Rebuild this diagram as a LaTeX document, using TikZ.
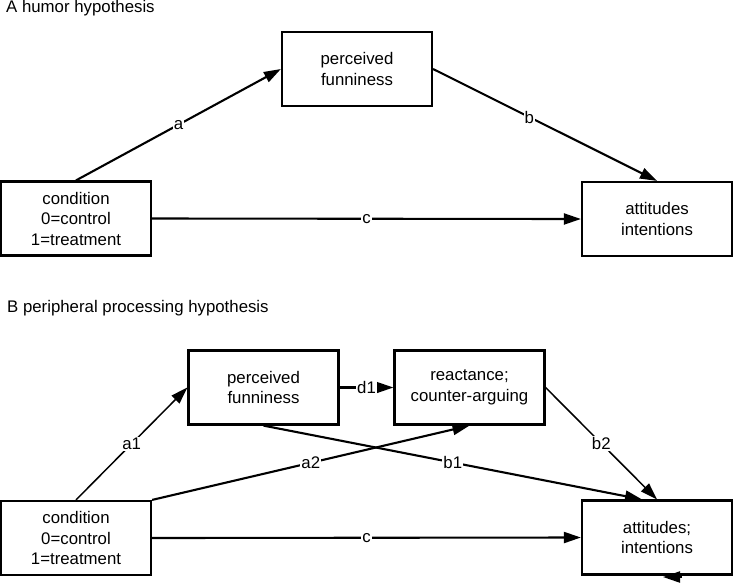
\documentclass[tikz,border=0pt]{standalone}
\usepackage{fontspec}
\setmainfont{Liberation Sans}
\usetikzlibrary{arrows.meta}
\begin{document}
\begin{tikzpicture}[x=1pt,y=-1pt,
    every node/.style={font=\fontsize{16.8}{20.5}\selectfont},
    box/.style={draw,line width=2.2pt,minimum width=150pt,minimum height=74pt,align=center,inner sep=0pt},
    arrow/.style={line width=2.1pt,-{Triangle[length=17pt,width=11pt]}},
    thinarrow/.style={arrow,line width=1.5pt},
    lbl/.style={fill=white,inner sep=1pt}]
      \useasboundingbox (0,0) rectangle (733,582);
      % Titles
      \node[anchor=base west,inner sep=0pt] (titleA) at (6,12) {A humor hypothesis};
      \node[anchor=base west,inner sep=0pt] (titleB) at (7,312) {B peripheral processing hypothesis};
      % Nodes: panel A
      \node[box] (funA) at (357,69) {perceived\\funniness};
      \node[box] (condA) at (76,218.5) {condition\\0=control\\1=treatment};
      \node[box] (attA) at (657,219) {attitudes\\intentions};
      % Arrows: panel A
      \draw[arrow] (condA.north) -- (funA.west) node[midway,lbl] {a};
      \draw[arrow] (funA.east) -- (attA.north) node[pos=0.43,lbl] {b};
      \draw[arrow] (condA.east) -- (attA.west) node[midway,lbl] {c};
      % Nodes: panel B
      \node[box] (funB) at (263.5,387.5) {perceived\\funniness};
      \node[box] (reactB) at (469.5,387.5) {reactance;\\counter-arguing};
      \node[box] (condB) at (76,538) {condition\\0=control\\1=treatment};
      \node[box] (attB) at (657,537.5) {attitudes;\\intentions};
      \coordinate (loopA) at (682,577);
      \coordinate (loopB) at (663,577);
      % Arrows: panel B
      \draw[thinarrow] (condB.north) -- (funB.west) node[midway,lbl] {a1};
      \draw[arrow] (funB.east) -- (reactB.west) node[midway,lbl] {d1};
      \draw[arrow] (condB.north east) -- (reactB.south) node[midway,lbl] {a2};
      \draw[arrow] (funB.south) -- ([xshift=-15pt]attB.north) node[midway,lbl] {b1};
      \draw[thinarrow] (reactB.east) -- (attB.north) node[midway,lbl] {b2};
      \draw[arrow] (condB.east) -- (attB.west) node[midway,lbl] {c};
      \draw[arrow] (loopA) -- (loopB);
\end{tikzpicture}
\end{document}
